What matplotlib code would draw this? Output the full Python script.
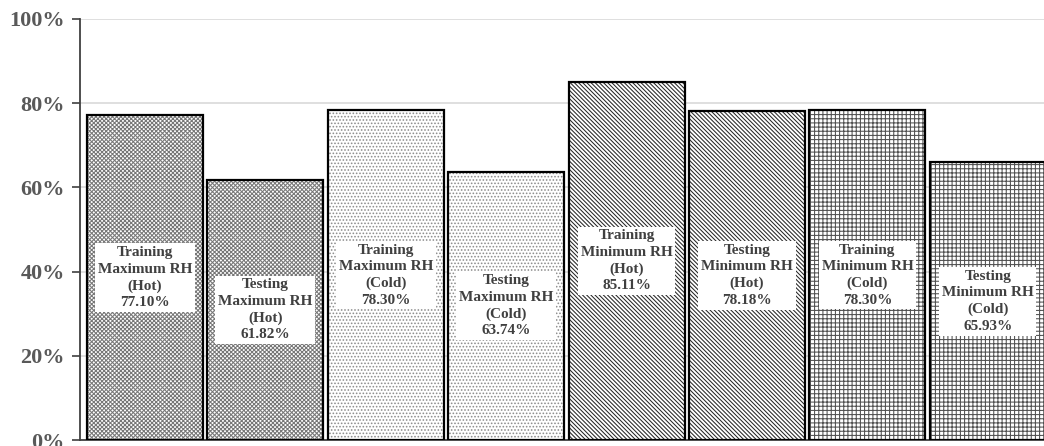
import matplotlib
matplotlib.use("Agg")
import matplotlib.pyplot as plt
from matplotlib.ticker import FixedLocator

categories = [
    "Training\nMaximum RH\n(Hot)",
    "Testing\nMaximum RH\n(Hot)",
    "Training\nMaximum RH\n(Cold)",
    "Testing\nMaximum RH\n(Cold)",
    "Training\nMinimum RH\n(Hot)",
    "Testing\nMinimum RH\n(Hot)",
    "Training\nMinimum RH\n(Cold)",
    "Testing\nMinimum RH\n(Cold)",
]
values = [77.10, 61.82, 78.30, 63.74, 85.11, 78.18, 78.30, 65.93]
ytick_values = [0, 20, 40, 60, 80, 100]
ytick_labels = ["0%", "20%", "40%", "60%", "80%", "100%"]

hatches = ["x" * 8, "x" * 8, "." * 5, "." * 5, "\\" * 8, "\\" * 8, "+" * 4, "+" * 4]
hatch_colors = ["#777777", "#777777", "#8c8c8c", "#8c8c8c", "#262626", "#262626", "#505050", "#505050"]

plt.rcParams["hatch.linewidth"] = 0.75
serif = ["Liberation Serif", "DejaVu Serif"]

fig = plt.figure(figsize=(10.44, 4.46), dpi=100)
ax = fig.add_axes([80 / 1044, 6 / 446, 964 / 1044, 421 / 446])

width = 0.963
for i, v in enumerate(values):
    ax.bar(i, v, width=width, color="white", edgecolor=hatch_colors[i],
           hatch=hatches[i], linewidth=0, zorder=2)
    ax.bar(i, v, width=width, fill=False, edgecolor="black", linewidth=1.6, zorder=3)
    ax.text(i, v / 2, categories[i] + "\n" + f"{v:.2f}%", ha="center", va="center",
            family=serif, fontweight="bold", fontsize=11, color="#404040",
            linespacing=1.35, zorder=4,
            bbox=dict(facecolor="white", edgecolor="none", pad=2.0))

ax.set_xlim(-0.54, 7.467)
ax.set_ylim(0, 100)
ax.yaxis.set_major_locator(FixedLocator(ytick_values))
ax.set_yticklabels(ytick_labels, family=serif, fontweight="bold", fontsize=16, color="#595959")
ax.set_xticks([])
ax.grid(axis="y", color="#d9d9d9", linewidth=1.2, zorder=0)
ax.set_axisbelow(True)
for s in ["top", "right"]:
    ax.spines[s].set_visible(False)
ax.spines["left"].set_color("#404040")
ax.spines["left"].set_linewidth(1.3)
ax.spines["bottom"].set_color("#404040")
ax.spines["bottom"].set_linewidth(1.3)
ax.tick_params(axis="y", length=6, width=1.2, color="#404040", pad=5)

fig.savefig("out.png", dpi=100)
